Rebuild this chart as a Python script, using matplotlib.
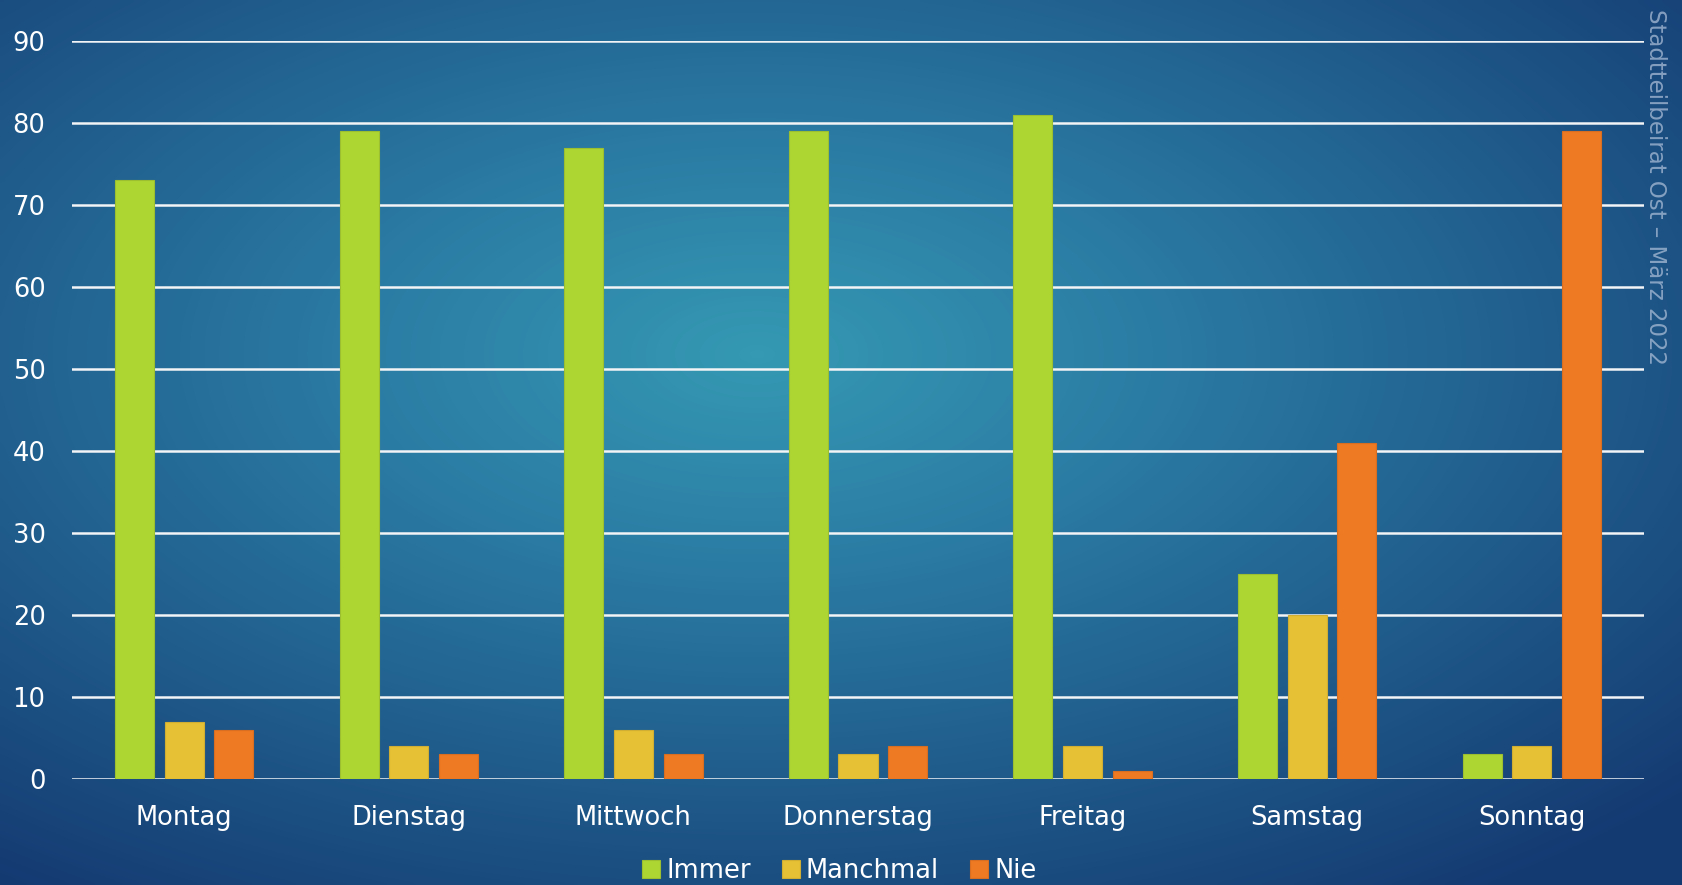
import matplotlib
matplotlib.use("Agg")
import matplotlib.pyplot as plt
import numpy as np
from matplotlib.colors import LinearSegmentedColormap

# data
tage = ["Montag", "Dienstag", "Mittwoch", "Donnerstag", "Freitag", "Samstag", "Sonntag"]
immer = [73, 79, 77, 79, 81, 25, 3]
manchmal = [7, 4, 6, 3, 4, 20, 4]
nie = [6, 3, 3, 4, 1, 41, 79]
serien = ["Immer", "Manchmal", "Nie"]
farben = ["#add633", "#e6c035", "#ee7a23"]
kanten = ["#9cbf30", "#cfae33", "#d86e22"]
yticks = [0, 10, 20, 30, 40, 50, 60, 70, 80, 90]

plt.rcParams["font.family"] = ["DejaVu Sans"]

fig = plt.figure(figsize=(16.82, 8.85), dpi=100)

# background: radial gradient
bg = fig.add_axes([0, 0, 1, 1])
bg.set_axis_off()
xx, yy = np.meshgrid(np.linspace(0, 1, 400), np.linspace(0, 1, 220))
r = np.sqrt(((xx - 0.45) / 0.75) ** 2 + ((yy - 0.40) / 0.75) ** 2)
r = np.clip(r, 0, 1)
cmap = LinearSegmentedColormap.from_list("bg", ["#3599b3", "#2a7aa3", "#1f5a8a", "#143a72"])
bg.imshow(r, cmap=cmap, aspect="auto", extent=[0, 1, 1, 0], interpolation="bicubic")
bg.set_xlim(0, 1)
bg.set_ylim(1, 0)

ax = fig.add_axes([0.0428, 0.1198, 0.9346, 0.8339])
ax.patch.set_alpha(0)

x = np.arange(len(tage))
breite = 0.174
schritt = 0.221
for i, (name, werte) in enumerate(zip(serien, [immer, manchmal, nie])):
    ax.bar(x + (i - 1) * schritt, werte, width=breite, color=farben[i],
           edgecolor=kanten[i], linewidth=0.8, label=name, zorder=3)

ax.set_xlim(-0.5, len(tage) - 0.5)
ax.set_ylim(0, 90)
ax.set_yticks(yticks)
ax.set_xticks(x)
ax.set_xticklabels(tage)
ax.yaxis.grid(True, color="#f2f4f6", linewidth=1.8, zorder=1)
ax.set_axisbelow(True)
for s in ax.spines.values():
    s.set_visible(False)
ax.tick_params(axis="both", length=0, colors="white", labelsize=18.5)
ax.tick_params(axis="y", pad=19)
ax.tick_params(axis="x", pad=19)

leg = ax.legend(loc="center", bbox_to_anchor=(0.488, -0.125), ncol=3, frameon=False,
                fontsize=18.5, handlelength=0.7, handleheight=0.7, handletextpad=0.25,
                columnspacing=1.2, labelcolor="white")

fig.text(0.9843, 0.99, "Stadtteilbeirat Ost \u2013 März 2022", rotation=-90,
         ha="center", va="top", color="#a9bcd6", alpha=0.75, fontsize=16.5)

fig.savefig("out.png", dpi=100)
